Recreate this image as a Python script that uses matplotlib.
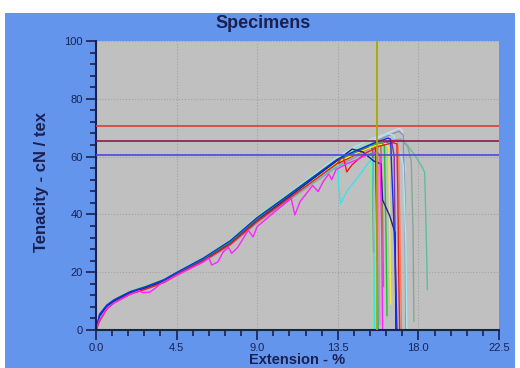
import matplotlib
matplotlib.use("Agg")
import matplotlib.pyplot as plt
from matplotlib.patches import Rectangle
from matplotlib.ticker import MultipleLocator, FormatStrFormatter

plt.rcParams["font.family"] = ["Liberation Sans", "DejaVu Sans"]

# shared extension points (%) for the rising part of each curve
rise_x = [0, 0.2, 0.6, 1.0, 1.9, 2.8, 3.8, 4.5, 6.0, 7.5, 9.0, 10.5, 12.0, 13.5]

# tenacity (cN/tex) of each specimen on rise_x, then its own tail up to the break
blue_y = [0, 5.5, 8.6, 10.4, 13.2, 15.0, 17.4, 19.9, 24.9, 30.9, 38.9, 45.6, 52.4, 59.2]
blue_tx = [14.5, 15.5, 16.3, 16.45, 16.5, 16.6, 16.7, 16.8]
blue_ty = [62.0, 64.6, 66.4, 66.0, 57.0, 42.0, 25.0, 0.5]

navy_y = [0, 4.8, 8.2, 10.0, 12.9, 14.6, 16.9, 19.3, 24.1, 29.9, 37.9, 44.8, 51.8, 58.8]
navy_tx = [14.3, 14.9, 15.5, 15.9, 16.0, 16.4, 16.7, 16.75]
navy_ty = [62.6, 61.6, 58.5, 57.5, 45.0, 39.5, 33.6, 0.5]

red_y = [0, 3.0, 7.2, 9.4, 12.4, 14.2, 16.5, 19.1, 23.9, 29.7, 37.6, 44.3, 51.0, 57.8]
red_tx = [13.8, 14.0, 14.3, 15.0, 15.8, 16.6, 16.8, 16.85, 16.9, 16.95]
red_ty = [60.3, 54.7, 57.2, 61.0, 63.6, 64.8, 64.4, 48.0, 20.0, 0.5]

cyan_y = [0, 4.2, 7.9, 9.7, 12.6, 14.3, 16.6, 19.0, 23.8, 29.6, 37.6, 44.2, 50.8, 57.3]
cyan_tx = [13.55, 13.65, 14.0, 14.7, 15.2, 15.45, 15.5, 15.55]
cyan_ty = [50.0, 43.6, 48.0, 53.5, 57.8, 59.2, 40.0, 0.5]

yellow_y = [0, 4.0, 7.7, 9.6, 12.6, 14.4, 16.7, 19.2, 24.0, 29.8, 37.8, 44.6, 51.4, 58.2]
yellow_tx = [14.5, 15.5, 16.2, 16.35, 16.4, 16.45]
yellow_ty = [61.0, 63.6, 64.6, 63.0, 35.0, 9.0]

green_y = [0, 5.0, 8.5, 10.4, 13.3, 15.1, 17.4, 19.8, 24.7, 30.6, 38.7, 45.5, 52.2, 58.9]
green_tx = [14.5, 15.3, 15.9, 16.1, 16.2, 16.25]
green_ty = [61.8, 63.8, 65.0, 64.0, 30.0, 5.0]

seagreen_y = [0, 4.4, 8.0, 9.9, 12.8, 14.5, 16.8, 19.2, 23.9, 29.6, 37.3, 43.8, 50.3, 56.6]
seagreen_tx = [14.5, 15.5, 16.4, 17.0, 17.3, 17.8, 18.2, 18.35, 18.45, 18.5]
seagreen_ty = [59.8, 62.8, 65.0, 66.0, 64.5, 60.5, 56.5, 54.5, 30.0, 14.0]

lavender_y = [0, 4.6, 8.2, 10.1, 13.0, 14.8, 17.1, 19.6, 24.6, 30.6, 38.6, 45.5, 52.4, 59.3]
lavender_tx = [14.5, 15.5, 16.3, 16.95, 17.1, 17.2, 17.25]
lavender_ty = [62.6, 65.6, 68.2, 69.8, 69.0, 62.0, 55.0]

grayblue_y = [0, 4.3, 7.9, 9.8, 12.7, 14.4, 16.7, 19.1, 23.9, 29.8, 37.8, 44.6, 51.5, 58.4]
grayblue_tx = [14.5, 15.5, 16.3, 16.9, 17.15, 17.25, 17.3]
grayblue_ty = [61.8, 64.9, 67.2, 68.8, 67.5, 45.0, 0.5]

graygreen_y = [0, 4.1, 7.8, 9.6, 12.5, 14.2, 16.5, 18.9, 23.6, 29.3, 37.1, 43.7, 50.3, 56.9]
graygreen_tx = [14.5, 15.5, 16.4, 17.0, 17.4, 17.6, 17.7, 17.75]
graygreen_ty = [60.1, 63.0, 65.2, 66.0, 63.5, 58.5, 35.0, 3.0]

darkred_y = [0, 3.8, 7.6, 9.5, 12.5, 14.3, 16.6, 19.0, 23.8, 29.6, 37.5, 44.2, 50.9, 57.6]
darkred_tx = [14.5, 15.4, 15.6, 15.65, 15.7]
darkred_ty = [60.8, 64.0, 63.2, 45.0, 24.0]

dkolive_y = [0, 4.6, 8.3, 10.2, 13.1, 14.8, 17.1, 19.5, 24.4, 30.3, 38.3, 45.0, 51.7, 58.4]
dkolive_tx = [14.5, 15.2, 15.45, 15.5]
dkolive_ty = [61.4, 63.5, 62.5, 27.0]

purple_y = [0, 4.2, 7.8, 9.7, 12.6, 14.4, 16.7, 19.1, 23.9, 29.6, 37.5, 44.3, 51.0, 57.7]
purple_tx = [14.5, 15.5, 16.5, 16.65, 16.7, 16.75]
purple_ty = [60.8, 63.6, 65.5, 60.0, 30.0, 0.5]

ltgreen_y = [0, 5.2, 8.6, 10.5, 13.4, 15.2, 17.6, 20.1, 25.1, 31.1, 39.2, 46.0, 52.7, 59.5]
ltgreen_tx = [14.5, 15.3, 15.35, 15.4]
ltgreen_ty = [62.5, 65.0, 50.0, 0.5]

orange_y = [0, 3.6, 7.4, 9.4, 12.4, 14.2, 16.5, 18.9, 23.7, 29.5, 37.4, 44.1, 50.9, 57.6]
orange_tx = [14.5, 15.5, 16.3, 16.8, 16.9, 17.0, 17.05]
orange_ty = [60.8, 63.8, 65.2, 66.0, 62.0, 20.0, 0.5]

ltcyan_y = [0, 4.7, 8.3, 10.2, 13.1, 14.9, 17.3, 19.8, 24.8, 30.9, 39.0, 46.0, 53.0, 60.0]
ltcyan_tx = [14.5, 15.5, 16.3, 16.6, 16.9, 17.15, 17.3, 17.35]
ltcyan_ty = [63.5, 66.5, 68.0, 67.5, 63.0, 57.0, 30.0, 0.5]

teal_y = [0, 4.9, 8.4, 10.3, 13.2, 15.0, 17.3, 19.7, 24.6, 30.5, 38.5, 45.3, 52.0, 58.7]
teal_tx = [14.5, 15.5, 15.6, 15.7, 15.75]
teal_ty = [61.5, 64.5, 64.0, 35.0, 0.5]

olive_y = [0, 4.4, 8.0, 9.9, 12.8, 14.6, 16.9, 19.3, 24.2, 30.0, 38.0, 44.8, 51.5, 58.2]
olive_tx = [14.5, 15.5, 15.9, 16.0, 16.05]
olive_ty = [61.2, 63.9, 64.2, 40.0, 15.0]

pink_y = [0, 3.9, 7.6, 9.5, 12.4, 14.1, 16.4, 18.8, 23.5, 29.3, 37.2, 43.9, 50.6, 57.3]
pink_tx = [14.5, 15.5, 15.75, 15.8, 15.85]
pink_ty = [60.2, 62.8, 63.0, 30.0, 2.0]

# the jagged magenta specimen, read on its own points
magenta_x = [0, 0.2, 0.6, 1.0, 1.9, 2.4, 2.6, 3.0, 3.3, 3.6, 4.5, 6.0, 6.3, 6.46, 6.8,
             7.1, 7.4, 7.57, 7.9, 8.5, 8.77, 9.0, 10.0, 10.9, 11.1, 11.4, 12.1, 12.4,
             12.7, 13.0, 13.16, 13.4, 14.0, 14.6, 15.2, 15.7, 15.85, 15.95, 16.0]
magenta_y = [0, 3.5, 7.4, 9.3, 12.3, 13.6, 12.9, 13.1, 14.4, 16.0, 19.0, 23.6, 25.0,
             22.5, 23.5, 27.0, 28.6, 26.5, 28.5, 34.5, 32.2, 35.8, 41.0, 45.5, 39.8,
             44.5, 50.0, 47.9, 51.5, 54.0, 52.0, 55.5, 57.5, 59.0, 60.8, 61.5, 60.5,
             35.0, 0.5]

# reference lines
limit_levels = [70.6, 65.3, 60.4]
limit_colors = ["#e03a3a", "#8e1848", "#4a4ae0"]
marker_ext = 15.69

specimens = [
    (seagreen_y, seagreen_tx, seagreen_ty, "#5fbf9a"),
    (graygreen_y, graygreen_tx, graygreen_ty, "#86a892"),
    (lavender_y, lavender_tx, lavender_ty, "#d8d8ea"),
    (grayblue_y, grayblue_tx, grayblue_ty, "#8592c0"),
    (ltcyan_y, ltcyan_tx, ltcyan_ty, "#a8e6f0"),
    (orange_y, orange_tx, orange_ty, "#ff7a5a"),
    (purple_y, purple_tx, purple_ty, "#9030a8"),
    (pink_y, pink_tx, pink_ty, "#f07fc0"),
    (olive_y, olive_tx, olive_ty, "#8c8c20"),
    (teal_y, teal_tx, teal_ty, "#20a0a0"),
    (dkolive_y, dkolive_tx, dkolive_ty, "#4f6e50"),
    (darkred_y, darkred_tx, darkred_ty, "#a02828"),
    (ltgreen_y, ltgreen_tx, ltgreen_ty, "#90e890"),
    (yellow_y, yellow_tx, yellow_ty, "#f0f030"),
    (green_y, green_tx, green_ty, "#20c030"),
    (cyan_y, cyan_tx, cyan_ty, "#40e0e8"),
    (navy_y, navy_tx, navy_ty, "#202090"),
    (red_y, red_tx, red_ty, "#e82020"),
    (blue_y, blue_tx, blue_ty, "#1030f0"),
]

ink = "#1a2150"

fig = plt.figure(figsize=(5.2, 3.68), dpi=100, facecolor="white")
fig.patches.append(Rectangle((5 / 520, 0), 510 / 520, 355 / 368, transform=fig.transFigure,
                             facecolor="#6495ed", edgecolor="none", zorder=-10))
ax = fig.add_axes([96 / 520, 38 / 368, 403 / 520, 289 / 368])
ax.set_facecolor("#c0c0c0")

for ry, tx, ty, col in specimens:
    ax.plot(rise_x + tx, ry + ty, color=col, lw=1.0)
ax.plot(magenta_x, magenta_y, color="#ff22ff", lw=1.0)

for lev, col in zip(limit_levels, limit_colors):
    ax.axhline(lev, color=col, lw=1.2, zorder=3)
ax.axvline(marker_ext, color="#a8a800", lw=1.3, zorder=3)

ax.set_xlim(0, 22.5)
ax.set_ylim(0, 100)
ax.xaxis.set_major_locator(MultipleLocator(4.5))
ax.xaxis.set_minor_locator(MultipleLocator(0.9))
ax.xaxis.set_major_formatter(FormatStrFormatter("%.1f"))
ax.yaxis.set_major_locator(MultipleLocator(20))
ax.yaxis.set_minor_locator(MultipleLocator(4))
ax.grid(True, which="major", color="#a2a2a2", ls=":", lw=0.8)
ax.set_axisbelow(True)

for s in ["top", "right"]:
    ax.spines[s].set_visible(False)
for s in ["left", "bottom"]:
    ax.spines[s].set_color(ink)
    ax.spines[s].set_linewidth(1.5)
ax.tick_params(which="major", length=7, width=1.2, color=ink, labelcolor=ink,
               labelsize=8, pad=2.5)
ax.tick_params(which="minor", length=4.5, width=1.2, color=ink)

fig.text(263 / 520, 1 - 24 / 368, "Specimens", ha="center", va="center",
         fontsize=13, fontweight="bold", color=ink)
fig.text(297 / 520, 1 - 360 / 368, "Extension - %", ha="center", va="center",
         fontsize=10.5, fontweight="bold", color=ink)
fig.text(42 / 520, 1 - 182 / 368, "Tenacity - cN / tex", ha="center", va="center",
         rotation=90, fontsize=12, fontweight="bold", color=ink)

fig.savefig("out.png", dpi=100, facecolor=fig.get_facecolor())
